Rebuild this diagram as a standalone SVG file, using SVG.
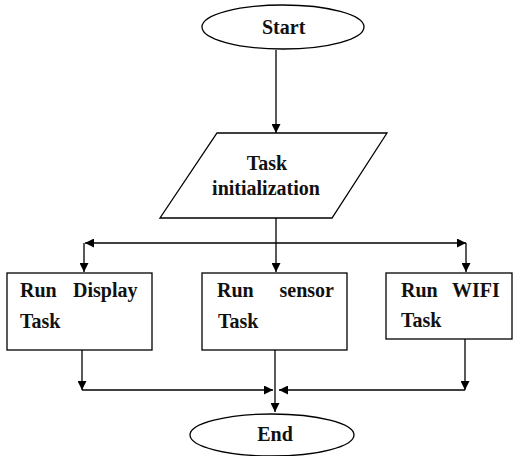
<svg xmlns="http://www.w3.org/2000/svg" width="513" height="456" viewBox="0 0 513 456">
<style>
.s{fill:#fff;stroke:#000;stroke-width:1.3}
.t{font-family:"Liberation Serif",serif;font-weight:bold;font-size:20px;fill:#111}
.c{fill:none;stroke:#000;stroke-width:1.3}
</style>
<defs>
<marker id="a" viewBox="0 0 10 10" refX="10" refY="5" markerWidth="9" markerHeight="9" markerUnits="userSpaceOnUse" orient="auto"><path d="M0,0L10,5L0,10z" fill="#000"/></marker>
</defs>
<rect width="513" height="456" fill="#fff"/>
<g id="connectors">
<path class="c" d="M276,50V133" marker-end="url(#a)"/>
<path class="c" d="M276,218V243"/>
<path class="c" d="M276,243H85" marker-end="url(#a)"/>
<path class="c" d="M276,243H466" marker-end="url(#a)"/>
<path class="c" d="M84,243V272" marker-end="url(#a)"/>
<path class="c" d="M276,243V272" marker-end="url(#a)"/>
<path class="c" d="M466,243V272" marker-end="url(#a)"/>
<path class="c" d="M82,350V390" marker-end="url(#a)"/>
<path class="c" d="M82,390H273" marker-end="url(#a)"/>
<path class="c" d="M465,339V390" marker-end="url(#a)"/>
<path class="c" d="M465,390H279" marker-end="url(#a)"/>
<path class="c" d="M275,350V412" marker-end="url(#a)"/>
</g>
<g id="start">
<ellipse class="s" cx="283" cy="27" rx="81" ry="22"/>
<text class="t" x="262" y="34">Start</text>
</g>
<g id="init">
<polygon class="s" points="217,133 387,133 332,218 160,218"/>
<text class="t" x="267" y="170" text-anchor="middle" font-size="18">Task</text>
<text class="t" x="266" y="195" text-anchor="middle" font-size="18">initialization</text>
</g>
<g id="display">
<rect class="s" x="7" y="273" width="145" height="77"/>
<text class="t" x="20" y="297">Run</text>
<text class="t" x="73" y="297">Display</text>
<text class="t" x="20" y="328">Task</text>
</g>
<g id="sensor">
<rect class="s" x="202" y="273" width="145" height="77"/>
<text class="t" x="217" y="297">Run</text>
<text class="t" x="334" y="297" text-anchor="end">sensor</text>
<text class="t" x="218" y="328">Task</text>
</g>
<g id="wifi">
<rect class="s" x="386" y="273" width="126" height="66"/>
<text class="t" x="401" y="297">Run</text>
<text class="t" x="452" y="297">WIFI</text>
<text class="t" x="401" y="327">Task</text>
</g>
<g id="end">
<ellipse class="s" cx="272" cy="435" rx="82" ry="21"/>
<text class="t" x="275" y="441" text-anchor="middle">End</text>
</g>
</svg>
